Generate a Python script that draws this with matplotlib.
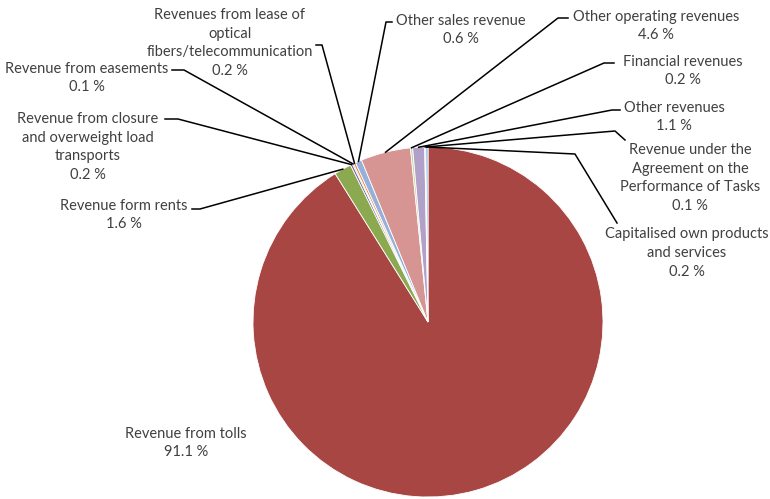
import numpy as np
import matplotlib.pyplot as plt

labels = [
    'Revenue from tolls',
    'Revenue form rents',
    'Revenue from closure\nand overweight load\ntransports',
    'Revenue from easements',
    'Revenues from lease of\noptical\nfibers/telecommunication',
    'Other sales revenue',
    'Other operating revenues',
    'Financial revenues',
    'Other revenues',
    'Revenue under the\nAgreement on the\nPerformance of Tasks',
    'Capitalised own products\nand services',
]
shares = [91.1, 1.6, 0.2, 0.1, 0.2, 0.6, 4.6, 0.2, 1.1, 0.1, 0.2]
colors = ['#A84644', '#8BA94F', '#7D62A0', '#4A7EBB', '#EC8A3C', '#95B0DA',
          '#D69492', '#C3D69B', '#B1A0C7', '#93CDDD', '#8DB4E2']

# label centres and leader elbows, in pixels from the top-left corner
label_pos = [(186, 443), (124, 215), (88, 147), (87, 78), (230, 43), (461, 30),
             (656, 26), (683, 71), (674, 117), (690, 178), (687, 253)]
leaders = [None,
           [(192, 209), (200, 209)],
           [(165, 119), (178, 119)],
           [(172, 70), (184, 70)],
           [(316, 45), (322, 45)],
           [(392, 22), (386, 22)],
           [(568, 18), (558, 18)],
           [(614, 63), (604, 63)],
           [(620, 110), (612, 110)],
           [(625, 140), (615, 131)],
           [(617, 223), (575, 154)]]

W, H = 770, 499
cx, cy, R = 428, 322, 175

plt.rcParams['font.family'] = ['Lato', 'DejaVu Sans']
fig = plt.figure(figsize=(W / 100, H / 100), dpi=100)
ax = fig.add_axes([0, 0, 1, 1])

ax.pie(shares, colors=colors, startangle=90, counterclock=False,
       center=(cx, H - cy), radius=R,
       wedgeprops=dict(edgecolor='white', linewidth=0.6))
ax.set_xlim(0, W)
ax.set_ylim(0, H)
ax.set_aspect('equal')
ax.axis('off')

total = sum(shares)
cum = np.cumsum([0] + shares[:-1]) / total
for i, (lab, val) in enumerate(zip(labels, shares)):
    tx, ty = label_pos[i]
    ax.text(tx, H - ty, f'{lab}\n{val:.1f} %', ha='center', va='center',
            fontsize=10.5, color='#404040', linespacing=1.45)
    if leaders[i] is None:
        continue
    mid = np.deg2rad(90 - 360 * (cum[i] + val / total / 2))
    px, py = cx + R * np.cos(mid), (H - cy) + R * np.sin(mid)
    xs = [p[0] for p in leaders[i]] + [px]
    ys = [H - p[1] for p in leaders[i]] + [py]
    ax.plot(xs, ys, color='black', linewidth=1.1)

fig.savefig('out.png', dpi=100)
